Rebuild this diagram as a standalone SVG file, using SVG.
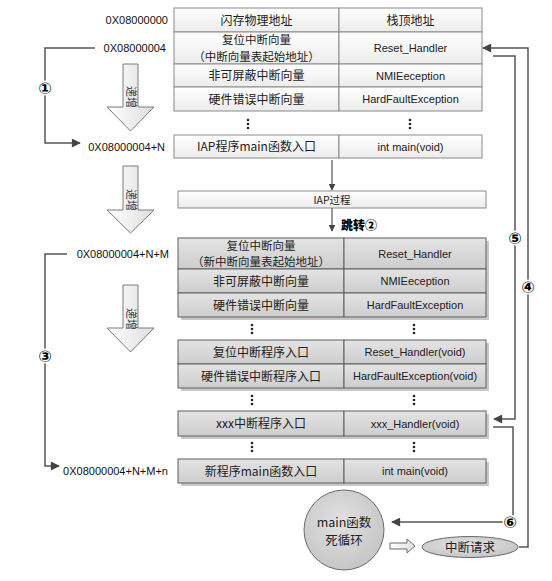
<svg xmlns="http://www.w3.org/2000/svg" width="552" height="581" viewBox="0 0 552 581">
<defs>
<linearGradient id="gTop" x1="0" y1="0" x2="0" y2="1"><stop offset="0" stop-color="#ffffff"/><stop offset="1" stop-color="#ececec"/></linearGradient>
<linearGradient id="gBot" x1="0" y1="0" x2="0" y2="1"><stop offset="0" stop-color="#e4e4e4"/><stop offset="1" stop-color="#cdcdcd"/></linearGradient>
<linearGradient id="gArrow" x1="0" y1="0" x2="1" y2="0"><stop offset="0" stop-color="#ffffff"/><stop offset="1" stop-color="#dedede"/></linearGradient>
<radialGradient id="gCirc" cx="0.45" cy="0.4" r="0.65"><stop offset="0" stop-color="#e2e2e2"/><stop offset="1" stop-color="#c4c4c4"/></radialGradient>
<marker id="ah" viewBox="0 0 10 10" refX="9" refY="5" markerWidth="7" markerHeight="7" markerUnits="userSpaceOnUse" orient="auto"><path d="M0,0 L10,5 L0,10 z" fill="#444"/></marker>
<marker id="ahL" viewBox="0 0 10 10" refX="9" refY="5" markerWidth="11" markerHeight="9" markerUnits="userSpaceOnUse" orient="auto"><path d="M0,0 L10,5 L0,10 z" fill="#444"/></marker>
</defs>
<style>
.cn{font-family:"Noto Sans CJK SC","Noto Sans",sans-serif;font-size:12px;fill:#222;text-anchor:middle}
.cn2{font-family:"Noto Sans CJK SC","Noto Sans",sans-serif;font-size:11.5px;fill:#222;text-anchor:middle}
.en{font-family:"Liberation Sans","DejaVu Sans",sans-serif;font-size:11px;fill:#222;text-anchor:middle}
.addr{font-family:"Liberation Sans","DejaVu Sans",sans-serif;font-size:11px;fill:#111;text-anchor:end}
.top{fill:url(#gTop);stroke:#8a8a8a;stroke-width:1}
.bot{fill:url(#gBot);stroke:#5e5e5e;stroke-width:1}
.sh{fill:#9a9a9a;opacity:0.55}
.ln{fill:none;stroke:#555;stroke-width:1.5}
.num{font-family:"DejaVu Sans","Noto Sans CJK SC",sans-serif;font-size:16px;font-weight:bold;fill:#000;text-anchor:middle}
.dot{fill:#222}
.big{fill:url(#gArrow);stroke:#7a7a7a;stroke-width:1}
.inc{font-family:"Noto Sans CJK SC",sans-serif;font-size:11px;fill:#334;text-anchor:middle}
</style>

<!-- address labels -->
<g id="addresses">
<text class="addr" x="168" y="24">0X08000000</text>
<text class="addr" x="166" y="52">0X08000004</text>
<text class="addr" x="165" y="151">0X08000004+N</text>
<text class="addr" x="169" y="258">0X08000004+N+M</text>
<text class="addr" x="168" y="475">0X08000004+N+M+n</text>
</g>

<!-- top table -->
<g id="top-table">
<rect class="top" x="174" y="8" width="165" height="24"/><rect class="top" x="339" y="8" width="143" height="24"/>
<text class="cn" x="256.5" y="24.5">闪存物理地址</text><text class="cn" x="410.5" y="24.5">栈顶地址</text>
<rect class="top" x="174" y="32" width="165" height="32"/><rect class="top" x="339" y="32" width="143" height="32"/>
<text class="cn2" x="256.5" y="44">复位中断向量</text><text class="cn2" x="256.5" y="60.5">（中断向量表起始地址）</text>
<text class="en" x="410.5" y="52">Reset_Handler</text>
<rect class="top" x="174" y="64" width="165" height="23"/><rect class="top" x="339" y="64" width="143" height="23"/>
<text class="cn" x="256.5" y="80">非可屏蔽中断向量</text><text class="en" x="410.5" y="80">NMIEeception</text>
<rect class="top" x="174" y="87" width="165" height="24"/><rect class="top" x="339" y="87" width="143" height="24"/>
<text class="cn" x="256.5" y="103.5">硬件错误中断向量</text><text class="en" x="410.5" y="103">HardFaultException</text>
<circle class="dot" cx="248" cy="120" r="1.3"/><circle class="dot" cx="248" cy="124" r="1.3"/><circle class="dot" cx="248" cy="128" r="1.3"/>
<circle class="dot" cx="410" cy="120" r="1.3"/><circle class="dot" cx="410" cy="124" r="1.3"/><circle class="dot" cx="410" cy="128" r="1.3"/>
<rect class="top" x="174" y="135" width="165" height="23"/><rect class="top" x="339" y="135" width="143" height="23"/>
<text class="cn" x="256.5" y="151">IAP程序main函数入口</text><text class="en" x="410.5" y="151">int main(void)</text>
</g>

<!-- IAP process bar -->
<g id="iap-process">
<rect class="top" x="178" y="191" width="308" height="17"/>
<text class="cn" x="332" y="203.5" style="font-size:10.5px">IAP过程</text>
</g>
<text id="jump-label" x="341" y="230" style="font-family:'Noto Sans CJK SC',sans-serif;font-size:12px;font-weight:900;fill:#000">跳转②</text>

<!-- bottom table -->
<g id="bottom-table">
<rect class="sh" x="181" y="241" width="308" height="79"/>
<rect class="sh" x="181" y="343" width="308" height="48"/>
<rect class="sh" x="181" y="414" width="308" height="25"/>
<rect class="sh" x="181" y="462" width="308" height="24"/>
<rect class="bot" x="178" y="238" width="166" height="31"/><rect class="bot" x="344" y="238" width="142" height="31"/>
<text class="cn2" x="261" y="250">复位中断向量</text><text class="cn2" x="261" y="266">（新中断向量表起始地址）</text>
<text class="en" x="415" y="258">Reset_Handler</text>
<rect class="bot" x="178" y="269" width="166" height="24"/><rect class="bot" x="344" y="269" width="142" height="24"/>
<text class="cn" x="261" y="285.5">非可屏蔽中断向量</text><text class="en" x="415" y="285">NMIEeception</text>
<rect class="bot" x="178" y="293" width="166" height="24"/><rect class="bot" x="344" y="293" width="142" height="24"/>
<text class="cn" x="261" y="309.5">硬件错误中断向量</text><text class="en" x="415" y="309">HardFaultException</text>
<circle class="dot" cx="252" cy="325" r="1.3"/><circle class="dot" cx="252" cy="329" r="1.3"/><circle class="dot" cx="252" cy="333" r="1.3"/>
<circle class="dot" cx="414" cy="325" r="1.3"/><circle class="dot" cx="414" cy="329" r="1.3"/><circle class="dot" cx="414" cy="333" r="1.3"/>
<rect class="bot" x="178" y="340" width="166" height="24"/><rect class="bot" x="344" y="340" width="142" height="24"/>
<text class="cn" x="261" y="356.5">复位中断程序入口</text><text class="en" x="415" y="356">Reset_Handler(void)</text>
<rect class="bot" x="178" y="364" width="166" height="24"/><rect class="bot" x="344" y="364" width="142" height="24"/>
<text class="cn" x="261" y="380.5">硬件错误中断程序入口</text><text class="en" x="415" y="380">HardFaultException(void)</text>
<circle class="dot" cx="252" cy="396" r="1.3"/><circle class="dot" cx="252" cy="400" r="1.3"/><circle class="dot" cx="252" cy="404" r="1.3"/>
<circle class="dot" cx="414" cy="396" r="1.3"/><circle class="dot" cx="414" cy="400" r="1.3"/><circle class="dot" cx="414" cy="404" r="1.3"/>
<rect class="bot" x="178" y="411" width="166" height="25"/><rect class="bot" x="344" y="411" width="142" height="25"/>
<text class="cn" x="261" y="428">xxx中断程序入口</text><text class="en" x="415" y="427.5">xxx_Handler(void)</text>
<circle class="dot" cx="252" cy="443" r="1.3"/><circle class="dot" cx="252" cy="447" r="1.3"/><circle class="dot" cx="252" cy="451" r="1.3"/>
<circle class="dot" cx="414" cy="443" r="1.3"/><circle class="dot" cx="414" cy="447" r="1.3"/><circle class="dot" cx="414" cy="451" r="1.3"/>
<rect class="bot" x="178" y="459" width="166" height="24"/><rect class="bot" x="344" y="459" width="142" height="24"/>
<text class="cn" x="261" y="475.5">新程序main函数入口</text><text class="en" x="415" y="475">int main(void)</text>
</g>

<!-- increasing arrows -->
<g id="inc-arrow-1">
<path class="big" d="M123,64 H138 V107 H154 L130.5,131 L107,107 H123 Z"/>
<text class="inc" transform="translate(130.5,97) rotate(90)" y="4">递增</text>
</g>
<g id="inc-arrow-2">
<path class="big" d="M123,166 H138 V210 H154 L130.5,233 L107,210 H123 Z"/>
<text class="inc" transform="translate(130.5,200) rotate(90)" y="4">递增</text>
</g>
<g id="inc-arrow-3">
<path class="big" d="M123,285 H138 V328 H154 L130.5,352 L107,328 H123 Z"/>
<text class="inc" transform="translate(130.5,319) rotate(90)" y="4">递增</text>
</g>

<!-- main loop and interrupt request -->
<g id="main-loop">
<circle cx="344" cy="530" r="40" fill="url(#gCirc)" stroke="#6a6a6a" stroke-width="1"/>
<text class="cn" x="344" y="527" style="font-size:12.5px">main函数</text>
<text class="cn" x="344" y="545" style="font-size:12.5px">死循环</text>
</g>
<g id="interrupt-request">
<ellipse cx="470" cy="547" rx="48" ry="10.5" fill="url(#gCirc)" stroke="#6a6a6a" stroke-width="1"/>
<text class="cn" x="470" y="551.5" style="font-size:12.5px">中断请求</text>
</g>

<!-- connectors -->
<g id="connectors">
<line class="ln" x1="332" y1="160" x2="332" y2="190" marker-end="url(#ah)" style="stroke-width:1.2"/>
<line class="ln" x1="332" y1="208" x2="332" y2="231" marker-end="url(#ah)" style="stroke-width:1.2"/>
<path class="ln" d="M95,48 H45 V143 H80" marker-end="url(#ahL)"/>
<path class="ln" d="M67,254 H45 V466 H59" marker-end="url(#ahL)"/>
<path class="ln" d="M519,547 H528 V48 H483" marker-end="url(#ahL)"/>
<path class="ln" d="M493,56 H515 V419 H494" marker-end="url(#ahL)"/>
<path class="ln" d="M493,427 H513 V522 H392" marker-end="url(#ahL)"/>
<path d="M390,543 H407 V539 L415,546 L407,553 V549 H390 Z" fill="url(#gArrow)" stroke="#6a6a6a" stroke-width="1"/>
<circle cx="45" cy="88" r="7.5" fill="#fff"/><text class="num" x="45" y="93.5">①</text>
<circle cx="45" cy="356" r="7.5" fill="#fff"/><text class="num" x="45" y="361.5">③</text>
<circle cx="528" cy="287" r="7.5" fill="#fff"/><text class="num" x="528" y="292.5">④</text>
<circle cx="515" cy="238" r="7.5" fill="#fff"/><text class="num" x="515" y="243.5">⑤</text>
<circle cx="510" cy="522" r="7.5" fill="#fff"/><text class="num" x="510" y="527.5">⑥</text>
</g>
</svg>
